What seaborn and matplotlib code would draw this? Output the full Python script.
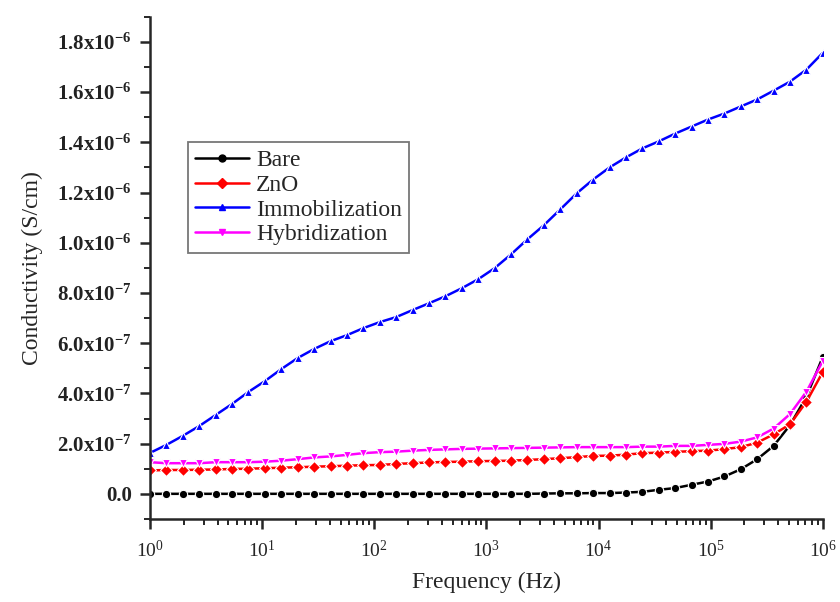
import numpy as np
import pandas as pd
import matplotlib
matplotlib.use("Agg")
import matplotlib.pyplot as plt
from matplotlib.ticker import FixedLocator, MultipleLocator, LogLocator, LogFormatterMathtext, NullFormatter
from matplotlib.lines import Line2D
import seaborn as sns

# Frequencies (Hz), log-spaced sweep from 1 Hz to 1 MHz
freq = [1.0, 1.4007, 1.962, 2.748, 3.849, 5.392, 7.552, 10.58, 14.82, 20.75,
        29.07, 40.72, 57.03, 79.89, 111.9, 156.7, 219.5, 307.5, 430.7, 603.3,
        845.1, 1184, 1658, 2322, 3253, 4556, 6382, 8939, 12521, 17538,
        24566, 34409, 48197, 67509, 94559, 132450, 185520, 259860, 363980, 509820,
        714100, 1000000]

# Conductivity values in units of 1e-6 S/cm
bare = [0.000, 0.000, 0.000, 0.000, 0.000, 0.000, 0.000, 0.000, 0.000, 0.000,
        0.000, 0.000, 0.000, 0.000, 0.000, 0.000, 0.000, 0.000, 0.000, 0.000,
        0.000, 0.000, 0.000, 0.000, 0.001, 0.002, 0.002, 0.003,
        0.003, 0.005, 0.008, 0.016, 0.023, 0.036, 0.049, 0.069, 0.098, 0.138,
        0.191, 0.274, 0.387, 0.546]
zno = [0.093, 0.095, 0.095, 0.096, 0.097, 0.099, 0.100, 0.102, 0.104, 0.106,
       0.108, 0.110, 0.112, 0.114,
       0.115, 0.119, 0.122, 0.125, 0.127, 0.128, 0.130, 0.131, 0.132, 0.135,
       0.138, 0.142, 0.146, 0.151,
       0.152, 0.156, 0.162, 0.164, 0.167, 0.170, 0.172, 0.178, 0.186, 0.204,
       0.237, 0.277, 0.367, 0.486]
immob = [0.163, 0.195, 0.231, 0.270, 0.314, 0.358, 0.406, 0.449, 0.497, 0.541,
         0.577, 0.608, 0.632, 0.660,
         0.684, 0.704, 0.732, 0.759, 0.787, 0.819, 0.855, 0.899, 0.954, 1.014,
         1.070, 1.133, 1.197, 1.252,
         1.300, 1.340, 1.376, 1.404, 1.435, 1.463, 1.491, 1.515, 1.543, 1.571,
         1.606, 1.642, 1.690, 1.757]
hybrid = [0.126, 0.122, 0.122, 0.122, 0.126, 0.126, 0.126, 0.128, 0.132, 0.138,
          0.145, 0.149, 0.155, 0.162,
          0.166, 0.168, 0.172, 0.175, 0.177, 0.179, 0.180, 0.181, 0.182, 0.183,
          0.184, 0.185, 0.186, 0.186,
          0.186, 0.186, 0.188, 0.188, 0.191, 0.191, 0.195, 0.199, 0.208, 0.225,
          0.260, 0.318, 0.407, 0.530]

series_names = ["Bare", "ZnO", "Immobilization", "Hybridization"]
series_vals = [bare, zno, immob, hybrid]
colors = {"Bare": "#000000", "ZnO": "#ff0000", "Immobilization": "#0000ff", "Hybridization": "#ff00ff"}
markers = {"Bare": "o", "ZnO": "D", "Immobilization": "^", "Hybridization": "v"}

y_ticks = [0.0, 2e-7, 4e-7, 6e-7, 8e-7, 1e-6, 1.2e-6, 1.4e-6, 1.6e-6, 1.8e-6]
y_ticklabels = ["0.0", r"2.0x10$^{-7}$", r"4.0x10$^{-7}$", r"6.0x10$^{-7}$", r"8.0x10$^{-7}$",
                r"1.0x10$^{-6}$", r"1.2x10$^{-6}$", r"1.4x10$^{-6}$", r"1.6x10$^{-6}$", r"1.8x10$^{-6}$"]

rows = []
for name, vals in zip(series_names, series_vals):
    for f, v in zip(freq, vals):
        rows.append({"Frequency": f, "Conductivity": v * 1e-6, "Sample": name})
df = pd.DataFrame(rows)

sns.set_style("ticks")
plt.rcParams["font.family"] = ["Liberation Serif", "DejaVu Serif"]
plt.rcParams["mathtext.fontset"] = "custom"
plt.rcParams["mathtext.rm"] = "Liberation Serif"
plt.rcParams["mathtext.it"] = "Liberation Serif:italic"
plt.rcParams["mathtext.bf"] = "Liberation Serif:bold"
plt.rcParams["mathtext.default"] = "regular"

fig = plt.figure(figsize=(8.4, 6.02), dpi=100)
ax = fig.add_axes([0.1786, 0.138, 0.801, 0.834])

sns.lineplot(data=df, x="Frequency", y="Conductivity", hue="Sample", style="Sample",
             hue_order=series_names, style_order=series_names,
             palette=colors, markers=markers, dashes=False,
             linewidth=1.8, markersize=6, markeredgewidth=0.8, ax=ax, legend=False)

ax.set_xscale("log")
ax.set_xlim(1, 1e6)
ax.set_ylim(-1e-7, 1.9e-6)

ax.xaxis.set_major_locator(LogLocator(base=10, numticks=10))
ax.xaxis.set_major_formatter(LogFormatterMathtext())
ax.xaxis.set_minor_locator(LogLocator(base=10, subs=np.arange(2, 10), numticks=100))
ax.xaxis.set_minor_formatter(NullFormatter())

ax.yaxis.set_major_locator(FixedLocator(y_ticks))
ax.set_yticklabels(y_ticklabels, fontweight="bold", color="#222222")
ax.yaxis.set_minor_locator(MultipleLocator(1e-7))

for s in ["top", "right"]:
    ax.spines[s].set_visible(False)
for s in ["left", "bottom"]:
    ax.spines[s].set_linewidth(1.8)

ax.tick_params(axis="both", which="major", direction="out", length=7, width=1.8)
ax.tick_params(axis="y", which="major", labelsize=15, pad=6)
ax.tick_params(axis="x", which="major", labelsize=14, pad=8)
ax.tick_params(axis="both", which="minor", direction="out", length=4, width=1.4)

ax.set_xlabel("Frequency (Hz)", fontsize=17, labelpad=8)
ax.set_ylabel("Conductivity (S/cm)", fontsize=17, labelpad=10)

handles = [Line2D([0], [0], color=colors[n], marker=markers[n], markersize=5, linewidth=1.8)
           for n in series_names]
leg = ax.legend(handles, series_names, loc="upper left", bbox_to_anchor=(0.056, 0.75),
                fontsize=17, frameon=True, fancybox=False, handlelength=2.3,
                borderpad=0.3, labelspacing=0.14, handletextpad=0.3, borderaxespad=0)
leg.get_frame().set_edgecolor("#555555")
leg.get_frame().set_linewidth(1.3)

fig.savefig("out.png", dpi=100)
